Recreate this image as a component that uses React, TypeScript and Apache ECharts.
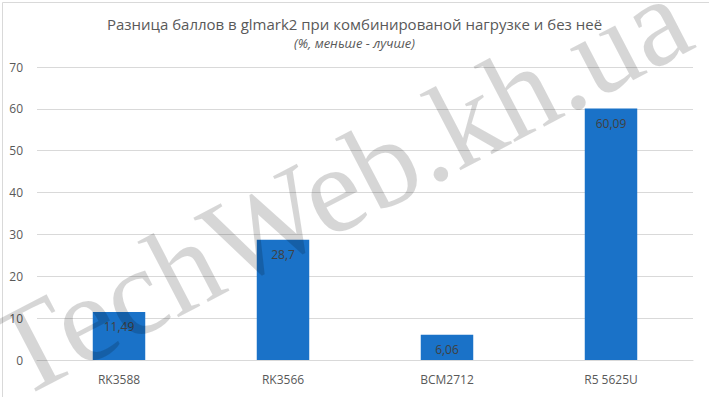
import React, { useEffect, useRef } from "react";
import * as echarts from "echarts";

const categories = ["RK3588", "RK3566", "BCM2712", "R5 5625U"];
const values = [11.49, 28.7, 6.06, 60.09];
const yTicks = { min: 0, max: 70, interval: 10 };

const titleText = "Разница баллов в glmark2 при комбинированой нагрузке и без неё";
const subtitleText = "(%, меньше - лучше)";
const watermarkText = "TechWeb.kh.ua";

export default function App() {
  const ref = useRef<HTMLDivElement>(null);

  useEffect(() => {
    if (!ref.current) return;
    const chart = echarts.init(ref.current, null, { renderer: "svg" });
    chart.setOption({
      animation: false,
      backgroundColor: "#ffffff",
      title: {
        text: titleText,
        subtext: subtitleText,
        left: "center",
        top: 11,
        itemGap: 5,
        textStyle: {
          fontFamily: "Open Sans",
          fontSize: 15,
          fontWeight: "normal",
          color: "#595959",
        },
        subtextStyle: {
          fontFamily: "Open Sans",
          fontSize: 13,
          fontStyle: "italic",
          color: "#595959",
        },
      },
      grid: { left: 37, right: 16, top: 67, bottom: 37 },
      xAxis: {
        type: "category",
        data: categories,
        axisLine: { show: true, lineStyle: { color: "#d9d9d9" } },
        axisTick: { show: false },
        axisLabel: {
          color: "#595959",
          fontFamily: "Open Sans",
          fontSize: 12,
          margin: 13,
        },
      },
      yAxis: {
        type: "value",
        min: yTicks.min,
        max: yTicks.max,
        interval: yTicks.interval,
        axisLine: { show: false },
        axisTick: { show: false },
        splitLine: { lineStyle: { color: "#d9d9d9" } },
        axisLabel: {
          color: "#595959",
          fontFamily: "Open Sans",
          fontSize: 12,
          margin: 14,
        },
      },
      series: [
        {
          type: "bar",
          data: values,
          barWidth: "32%",
          itemStyle: { color: "#1a72c8" },
          label: {
            show: true,
            position: "insideTop",
            distance: 9,
            color: "#404040",
            fontFamily: "Open Sans",
            fontSize: 12,
            formatter: (p: any) => String(p.value).replace(".", ","),
          },
        },
      ],
      graphic: [
        {
          type: "rect",
          left: 0,
          top: 0,
          shape: { x: 0.5, y: 0.5, width: 707, height: 395 },
          style: { fill: "none", stroke: "#d9d9d9", lineWidth: 1 },
          silent: true,
        },
        {
          type: "text",
          x: 28,
          y: 418,
          rotation: (27.5 * Math.PI) / 180,
          z: 100,
          silent: true,
          style: {
            text: watermarkText,
            fontFamily: "Liberation Serif",
            fontSize: 124,
            fill: "rgba(0,0,0,0.16)",
            textVerticalAlign: "bottom",
          },
        },
      ],
    });
    return () => chart.dispose();
  }, []);

  return (
    <div
      ref={ref}
      style={{ position: "fixed", left: 0, top: 0, width: 709, height: 397 }}
    />
  );
}
